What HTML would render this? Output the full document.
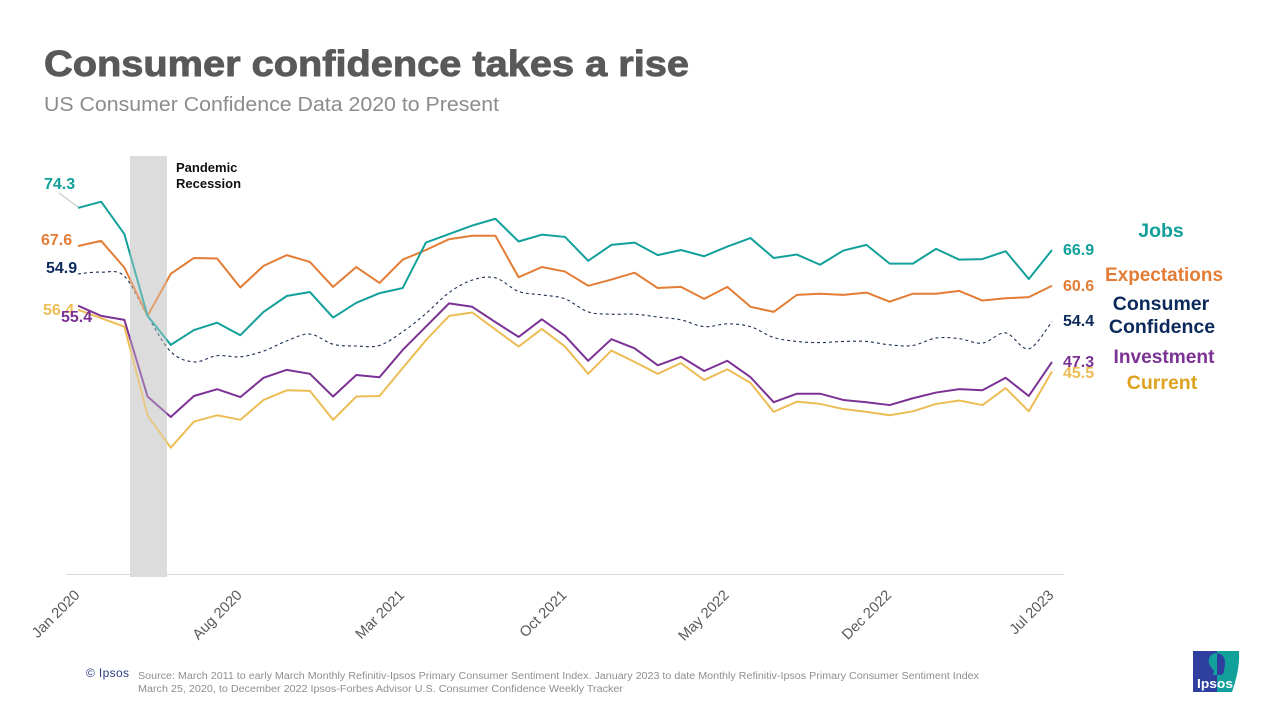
<!DOCTYPE html>
<html lang="en">
<head>
<meta charset="utf-8">
<title>Consumer confidence takes a rise</title>
<style>
html,body{margin:0;padding:0;background:#fff;width:1280px;height:720px;overflow:hidden}
svg{display:block}
text{font-family:"Liberation Sans",Arial,sans-serif}
.val{font-size:16px;font-weight:bold}
.leg{font-size:19.5px;font-weight:bold;text-anchor:middle}
.src{font-size:10px;fill:#8f8f8f}
.tick{font-size:14.7px;fill:#595959;text-anchor:end}
</style>
</head>
<body>
<svg id="chart" xmlns="http://www.w3.org/2000/svg" width="1280" height="720" viewBox="0 0 1280 720">
  <rect width="1280" height="720" fill="#fff"/>
  <text x="44" y="76" font-size="36" font-weight="bold" fill="#595959" stroke="#595959" stroke-width="0.9" textLength="645" lengthAdjust="spacingAndGlyphs">Consumer confidence takes a rise</text>
  <text x="44" y="111" font-size="20" fill="#8c8c8c" textLength="455" lengthAdjust="spacingAndGlyphs">US Consumer  Confidence Data 2020 to Present</text>

  <rect x="130" y="156" width="37" height="421" fill="#dcdcdc"/>
  <line x1="66" y1="574.5" x2="1064" y2="574.5" stroke="#d9d9d9" stroke-width="1"/>
  <g id="series-layer"></g>
  <rect x="130" y="156" width="37" height="421" fill="#dcdcdc" fill-opacity="0.35"/>
  <g id="tick-layer"></g>

  <text font-size="13" font-weight="bold" fill="#111"><tspan x="176" y="172">Pandemic</tspan><tspan x="176" y="188">Recession</tspan></text>

  <line x1="59" y1="193" x2="78" y2="207" stroke="#bdbdbd" stroke-width="1"/>
  <text class="val" x="44" y="189" fill="#12a09a">74.3</text>
  <text class="val" x="41" y="245" fill="#e37d35">67.6</text>
  <text class="val" x="46" y="273" fill="#0b2a5b">54.9</text>
  <text class="val" x="43" y="315" fill="#edbd55">56.4</text>
  <text class="val" x="61" y="322" fill="#7b3294">55.4</text>

  <text class="val" x="1063" y="255" fill="#12a09a">66.9</text>
  <text class="val" x="1063" y="291" fill="#e37d35">60.6</text>
  <text class="val" x="1063" y="326" fill="#0b2a5b">54.4</text>
  <text class="val" x="1063" y="378" fill="#edbd55">45.5</text>
  <text class="val" x="1063" y="367" fill="#7b3294">47.3</text>

  <text class="leg" x="1161" y="237" fill="#12a09a">Jobs</text>
  <text class="leg" x="1164" y="281" fill="#e37d35" textLength="118" lengthAdjust="spacingAndGlyphs">Expectations</text>
  <text class="leg" fill="#0b2a5b"><tspan x="1161" y="310">Consumer</tspan><tspan x="1162" y="333">Confidence</tspan></text>
  <text class="leg" x="1164" y="363" fill="#7b3294" textLength="101" lengthAdjust="spacingAndGlyphs">Investment</text>
  <text class="leg" x="1162" y="389" fill="#dda31f">Current</text>

  <text x="86" y="677" font-size="12" fill="#2b3a80" textLength="43">© Ipsos</text>
  <text class="src" x="138" y="679" textLength="841" lengthAdjust="spacingAndGlyphs">Source: March 2011 to early March Monthly Refinitiv-Ipsos Primary Consumer Sentiment Index. January 2023 to date Monthly Refinitiv-Ipsos Primary Consumer Sentiment Index</text>
  <text class="src" x="138" y="692" textLength="485" lengthAdjust="spacingAndGlyphs">March 25, 2020, to December 2022 Ipsos-Forbes Advisor U.S. Consumer Confidence Weekly Tracker</text>

  <g>
    <rect x="1193" y="651" width="24" height="41" fill="#2f3f9f"/>
    <path d="M1217 651H1239C1240 666 1236 680 1232 692H1217Z" fill="#11a09a"/>
    <path d="M1217 653C1211 653 1208 658 1209 663C1210 667 1213 669 1214 671L1213 675H1217Z" fill="#11a09a"/>
    <path d="M1217 653C1222 654 1225 657 1225 662C1225 666 1224 669 1224 672L1222 675H1217Z" fill="#2f3f9f"/>
    <text x="1197" y="688" font-size="13" font-weight="bold" fill="#fff" textLength="36" lengthAdjust="spacingAndGlyphs">Ipsos</text>
  </g>
</svg>
<script>
const categories = ["Jan 2020","Feb 2020","Mar 2020","Apr 2020","May 2020","Jun 2020","Jul 2020","Aug 2020","Sep 2020","Oct 2020","Nov 2020","Dec 2020","Jan 2021","Feb 2021","Mar 2021","Apr 2021","May 2021","Jun 2021","Jul 2021","Aug 2021","Sep 2021","Oct 2021","Nov 2021","Dec 2021","Jan 2022","Feb 2022","Mar 2022","Apr 2022","May 2022","Jun 2022","Jul 2022","Aug 2022","Sep 2022","Oct 2022","Nov 2022","Dec 2022","Jan 2023","Feb 2023","Mar 2023","Apr 2023","May 2023","Jun 2023","Jul 2023"];
const tickLabels = ["Jan 2020","Aug 2020","Mar 2021","Oct 2021","May 2022","Dec 2022","Jul 2023"];
const jobs = [74.3,75.4,69.7,55.3,50.2,52.8,54.1,51.9,56.0,58.8,59.5,55.0,57.6,59.3,60.2,68.2,69.7,71.2,72.4,68.4,69.6,69.2,65.0,67.8,68.2,66.0,66.9,65.8,67.5,69.0,65.5,66.1,64.3,66.8,67.8,64.5,64.5,67.1,65.2,65.3,66.7,61.8,66.9];
const expectations = [67.6,68.5,63.8,55.3,62.7,65.5,65.4,60.3,64.1,66.0,64.8,60.4,63.9,61.1,65.2,66.9,68.8,69.4,69.4,62.1,63.9,63.1,60.6,61.7,62.9,60.2,60.4,58.3,60.4,56.9,56.0,59.0,59.2,59.0,59.4,57.8,59.2,59.2,59.7,58.0,58.4,58.6,60.6];
const confidence = [62.7,63.0,62.3,55.3,49.0,47.2,48.3,48.1,49.1,50.9,52.1,50.3,50.0,50.1,52.5,55.7,59.4,61.6,62.0,59.6,59.0,58.3,56.0,55.6,55.6,55.1,54.6,53.4,53.9,53.4,51.5,50.8,50.6,50.8,50.8,50.2,50.1,51.4,51.3,50.5,52.3,49.5,54.3];
const investment = [57.1,55.3,54.6,41.1,37.5,41.2,42.4,41.0,44.4,45.8,45.1,41.1,44.9,44.5,49.3,53.4,57.5,56.9,54.2,51.6,54.7,51.8,47.4,51.2,49.6,46.6,48.1,45.6,47.4,44.5,40.1,41.6,41.6,40.5,40.1,39.6,40.8,41.8,42.4,42.2,44.4,41.2,47.2];
const current = [56.4,54.9,53.4,37.8,32.1,36.7,37.8,37.0,40.5,42.2,42.1,37.0,41.1,41.2,46.1,51.0,55.3,55.9,52.9,49.9,53.0,49.9,45.1,49.2,47.2,45.1,47.0,44.0,45.9,43.5,38.4,40.2,39.8,38.9,38.4,37.8,38.5,39.8,40.4,39.6,42.6,38.5,45.5];

const SVG_NS = "http://www.w3.org/2000/svg";
const xScale = i => 78 + i * (1052 - 78) / (categories.length - 1);
const yScale = v => 250 + (66.9 - v) * 5.68;

function straightPath(values) {
  return values.map((v, i) => (i ? "L" : "M") + xScale(i).toFixed(2) + " " + yScale(v).toFixed(2)).join("");
}
function smoothPath(values) {
  const p = values.map((v, i) => [xScale(i), yScale(v)]);
  let d = "M" + p[0][0].toFixed(2) + " " + p[0][1].toFixed(2);
  for (let i = 0; i < p.length - 1; i++) {
    const a = p[Math.max(i - 1, 0)], b = p[i], c = p[i + 1], e = p[Math.min(i + 2, p.length - 1)];
    const c1x = b[0] + (c[0] - a[0]) / 6, c1y = b[1] + (c[1] - a[1]) / 6;
    const c2x = c[0] - (e[0] - b[0]) / 6, c2y = c[1] - (e[1] - b[1]) / 6;
    d += "C" + c1x.toFixed(2) + " " + c1y.toFixed(2) + " " + c2x.toFixed(2) + " " + c2y.toFixed(2) + " " + c[0].toFixed(2) + " " + c[1].toFixed(2);
  }
  return d;
}
function drawLine(values, name, color, width, dash, smooth) {
  const el = document.createElementNS(SVG_NS, "path");
  
  
  el.setAttribute("d", smooth ? smoothPath(values) : straightPath(values));
  el.setAttribute("fill", "none");
  el.setAttribute("stroke", color);
  el.setAttribute("stroke-width", width);
  el.setAttribute("stroke-linejoin", "round");
  if (dash) el.setAttribute("stroke-dasharray", dash);
  document.getElementById("series-layer").appendChild(el);
}
drawLine(current, "line-current", "#edbd55", 2, null, false);
drawLine(investment, "line-investment", "#7b3294", 2, null, false);
drawLine(confidence, "line-consumer-confidence", "#1b2f52", 1.1, "3 3", true);
drawLine(expectations, "line-expectations", "#e37d35", 2, null, false);
drawLine(jobs, "line-jobs", "#12a09a", 2, null, false);

tickLabels.forEach(label => {
  const i = categories.indexOf(label);
  const t = document.createElementNS(SVG_NS, "text");
  
  
  t.setAttribute("class", "tick");
  const x = xScale(i) + 2.5, y = 596;
  t.setAttribute("x", x);
  t.setAttribute("y", y);
  t.setAttribute("transform", "rotate(-45 " + x + " " + y + ")");
  t.textContent = label;
  document.getElementById("tick-layer").appendChild(t);
});
</script>
</body>
</html>
